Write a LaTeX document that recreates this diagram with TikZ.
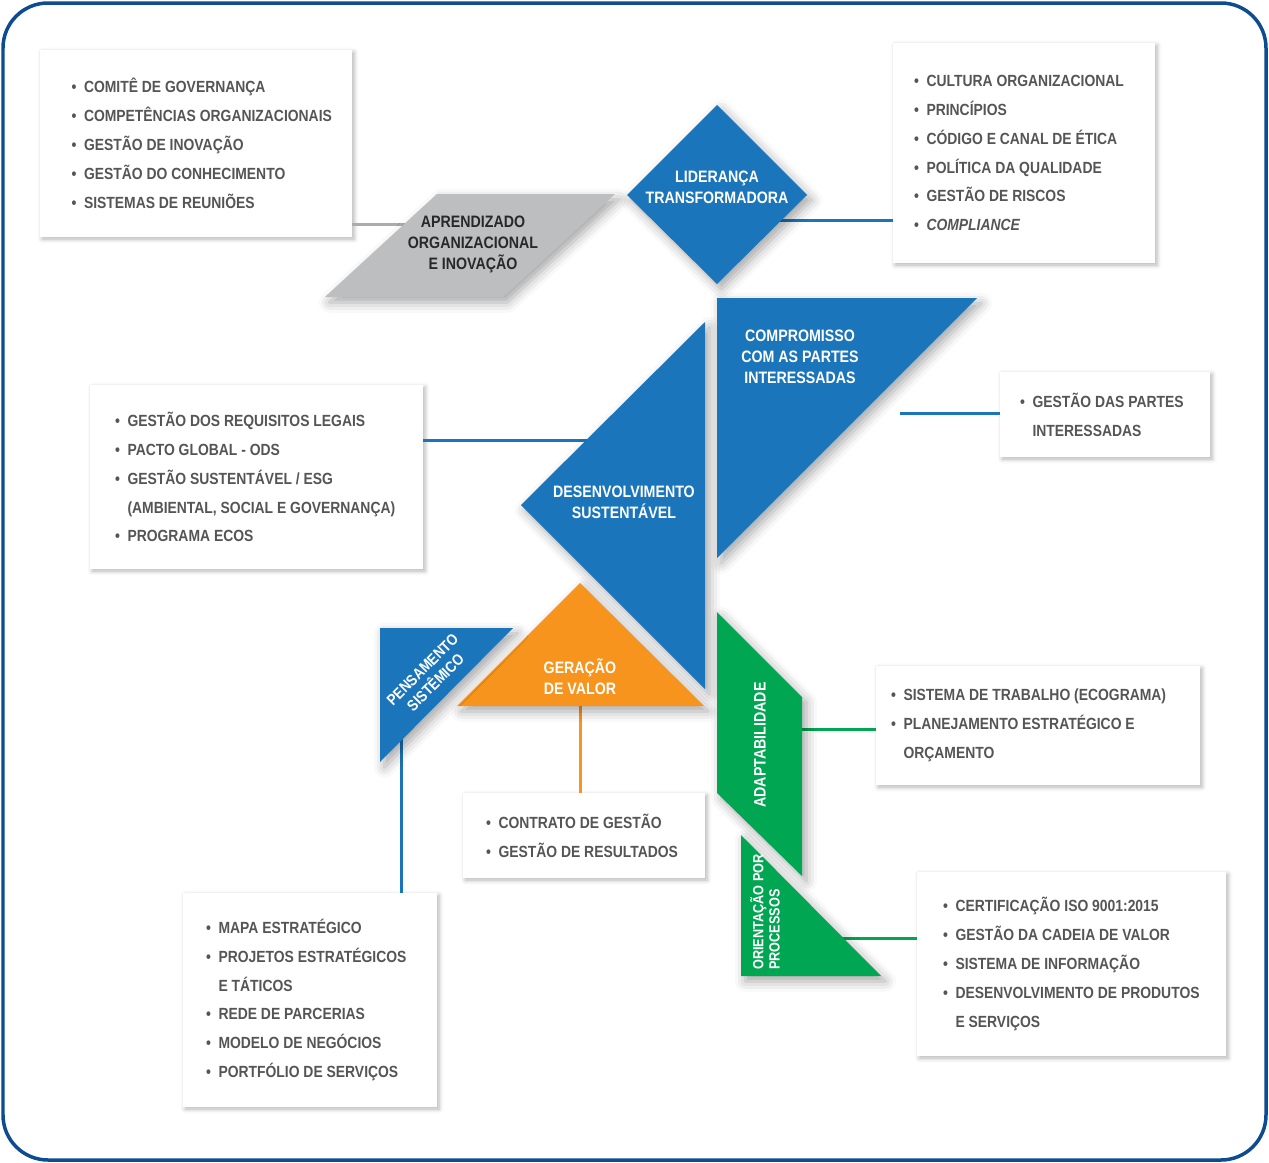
\documentclass[tikz,border=0pt]{standalone}
\usepackage{fontspec}
\setmainfont{Liberation Sans}[FakeStretch=0.86]
\usepackage{tikz}
\usetikzlibrary{positioning,shadows.blur}
\definecolor{orgBlue}{RGB}{27,117,187}
\definecolor{orgGreen}{RGB}{0,166,81}
\definecolor{orgOrange}{RGB}{247,148,29}
\definecolor{orgGray}{RGB}{188,190,192}
\definecolor{orgFrame}{RGB}{14,76,146}
\definecolor{listGray}{RGB}{85,85,85}
\definecolor{aprText}{RGB}{40,40,40}
\definecolor{linkGray}{RGB}{170,172,174}

\newcommand{\itm}[1]{\makebox[0.25cm][l]{•}#1}
\newcommand{\cont}[1]{\hspace*{0.25cm}#1}

\tikzset{
  listbox/.style={fill=white, inner sep=0pt,
    blur shadow={shadow xshift=1.2pt, shadow yshift=-1.2pt, shadow blur radius=2.5pt, shadow opacity=30}},
  itemlist/.style={inner sep=0pt, align=left, text=listGray, font=\fontsize{9.2}{16.44}\selectfont\bfseries},
  shapelabel/.style={inner sep=0pt, align=center, text=white, font=\fontsize{9.4}{11.9}\selectfont\bfseries},
  shapeshadow/.style={blur shadow={shadow xshift=2.5pt, shadow yshift=-3pt, shadow blur radius=6pt, shadow opacity=35}},
  link/.style={line width=0.06cm}
}

\begin{document}
\begin{tikzpicture}[x=0.02cm, y=-0.02cm]
  \useasboundingbox (0,0) rectangle (1269,1163);
  \draw[orgFrame, line width=0.07cm, rounded corners=0.9cm] (3,3) rectangle (1266,1160);

  % Anchors inside the shapes
  \coordinate (aprIn) at (430,224);
  \coordinate (lidIn) at (760,220);
  \coordinate (desIn) at (620,440);
  \coordinate (comIn) at (900,413);
  \coordinate (gerIn) at (580,690);
  \coordinate (pensIn) at (401,720);
  \coordinate (adaIn) at (780,729);
  \coordinate (oriIn) at (820,938);

  % Lists
  \node[listbox, minimum width=6.24cm, minimum height=3.74cm] (boxGov) at (196,143.5) {};
  \node[itemlist, right=0.63cm of boxGov.west] (listGov) {\itm{COMITÊ DE GOVERNANÇA}\\
    \itm{COMPETÊNCIAS ORGANIZACIONAIS}\\ \itm{GESTÃO DE INOVAÇÃO}\\
    \itm{GESTÃO DO CONHECIMENTO}\\ \itm{SISTEMAS DE REUNIÕES}};

  \node[listbox, minimum width=5.24cm, minimum height=4.40cm] (boxCult) at (1024,153) {};
  \node[itemlist, right=0.42cm of boxCult.west] (listCult) {\itm{CULTURA ORGANIZACIONAL}\\
    \itm{PRINCÍPIOS}\\ \itm{CÓDIGO E CANAL DE ÉTICA}\\ \itm{POLÍTICA DA QUALIDADE}\\
    \itm{GESTÃO DE RISCOS}\\ \itm{\textit{COMPLIANCE}}};

  \node[listbox, minimum width=4.20cm, minimum height=1.70cm] (boxPartes) at (1105,414.5) {};
  \node[itemlist, right=0.40cm of boxPartes.west] (listPartes) {\itm{GESTÃO DAS PARTES}\\
    \cont{INTERESSADAS}};

  \node[listbox, minimum width=6.66cm, minimum height=3.68cm] (boxSust) at (256.5,477) {};
  \node[itemlist, right=0.50cm of boxSust.west] (listSust) {\itm{GESTÃO DOS REQUISITOS LEGAIS}\\
    \itm{PACTO GLOBAL - ODS}\\ \itm{GESTÃO SUSTENTÁVEL / ESG}\\
    \cont{(AMBIENTAL, SOCIAL E GOVERNANÇA)}\\ \itm{PROGRAMA ECOS}};

  \node[listbox, minimum width=4.84cm, minimum height=1.70cm] (boxValor) at (584,835.5) {};
  \node[itemlist, right=0.46cm of boxValor.west] (listValor) {\itm{CONTRATO DE GESTÃO}\\
    \itm{GESTÃO DE RESULTADOS}};

  \node[listbox, minimum width=5.08cm, minimum height=4.28cm] (boxMapa) at (310,1000) {};
  \node[itemlist, right=0.46cm of boxMapa.west] (listMapa) {\itm{MAPA ESTRATÉGICO}\\
    \itm{PROJETOS ESTRATÉGICOS}\\ \cont{E TÁTICOS}\\ \itm{REDE DE PARCERIAS}\\
    \itm{MODELO DE NEGÓCIOS}\\ \itm{PORTFÓLIO DE SERVIÇOS}};

  \node[listbox, minimum width=6.48cm, minimum height=2.38cm] (boxTrab) at (1038,725.5) {};
  \node[itemlist, right=0.30cm of boxTrab.west] (listTrab) {\itm{SISTEMA DE TRABALHO (ECOGRAMA)}\\
    \itm{PLANEJAMENTO ESTRATÉGICO E}\\ \cont{ORÇAMENTO}};

  \node[listbox, minimum width=6.18cm, minimum height=3.68cm] (boxCert) at (1071.5,964) {};
  \node[itemlist, right=0.52cm of boxCert.west] (listCert) {\itm{CERTIFICAÇÃO ISO 9001:2015}\\
    \itm{GESTÃO DA CADEIA DE VALOR}\\ \itm{SISTEMA DE INFORMAÇÃO}\\
    \itm{DESENVOLVIMENTO DE PRODUTOS}\\ \cont{E SERVIÇOS}};

  % Connectors
  \draw[link, linkGray] (boxGov.east |- aprIn) -- (aprIn);
  \draw[link, orgBlue] (lidIn) -- (boxCult.west |- lidIn);
  \draw[link, orgBlue] (boxSust.east |- desIn) -- (desIn);
  \draw[link, orgBlue] (comIn) -- (boxPartes.west |- comIn);
  \draw[link, orgOrange] (gerIn) -- (gerIn |- boxValor.north);
  \draw[link, orgBlue] (pensIn) -- (pensIn |- boxMapa.north);
  \draw[link, orgGreen] (adaIn) -- (boxTrab.west |- adaIn);
  \draw[link, orgGreen] (oriIn) -- (boxCert.west |- oriIn);

  % Shapes
  \fill[orgGray, shapeshadow] (325,297) -- (437,194) -- (615,194) -- (503,297) -- cycle;
  \node[shapelabel, text=aprText, font=\fontsize{9.4}{12.2}\selectfont\bfseries] (aprLabel) at (473,244.5) {APRENDIZADO\\ORGANIZACIONAL\\E INOVAÇÃO};

  \fill[orgBlue, shapeshadow] (717,105) -- (807,195) -- (717,284) -- (627,195) -- cycle;
  \node[shapelabel] (lidLabel) at (717,187.5) {LIDERANÇA\\TRANSFORMADORA};

  \fill[orgBlue, shapeshadow] (705,322) -- (705,689) -- (521,505) -- cycle;
  \node[shapelabel] (desLabel) at (624,502.5) {DESENVOLVIMENTO\\SUSTENTÁVEL};

  \fill[orgBlue, shapeshadow] (717,298) -- (977,298) -- (717,558) -- cycle;
  \node[shapelabel] (comLabel) at (800,357) {COMPROMISSO\\COM AS PARTES\\INTERESSADAS};

  \fill[orgOrange, shapeshadow] (580,583) -- (704,706) -- (457,706) -- cycle;
  \node[shapelabel] (gerLabel) at (580,676.5) {GERAÇÃO\\DE VALOR};

  \fill[orgBlue, shapeshadow] (380,628) -- (513,628) -- (380,762) -- cycle;
  \node[shapelabel, rotate=45, font=\fontsize{8.8}{10.5}\selectfont\bfseries] (pensLabel) at (429,676) {PENSAMENTO\\SISTÊMICO};

  \fill[orgGreen, shapeshadow] (717,612) -- (802,697) -- (802,876) -- (717,793) -- cycle;
  \node[shapelabel, rotate=90] (adaLabel) at (760,745) {ADAPTABILIDADE};

  \fill[orgGreen, shapeshadow] (741,835) -- (881,976) -- (741,976) -- cycle;
  \node[shapelabel, rotate=90, align=left, font=\fontsize{8.4}{9.2}\selectfont\bfseries] (oriLabel) at (765,912) {ORIENTAÇÃO POR\\PROCESSOS};
\end{tikzpicture}
\end{document}
